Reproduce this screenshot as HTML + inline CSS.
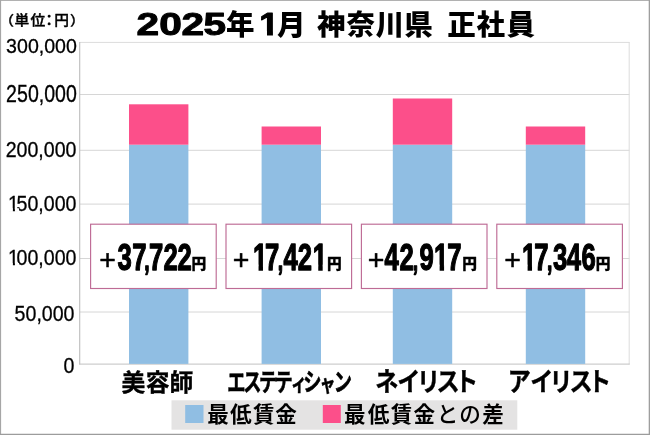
<!DOCTYPE html>
<html lang="ja">
<head>
<meta charset="utf-8">
<title>2025年1月 神奈川県 正社員</title>
<style>
html,body{margin:0;padding:0;background:#fff;}
body{width:650px;height:435px;overflow:hidden;}
svg{display:block;}
text{font-family:"Liberation Sans","Noto Sans CJK JP",sans-serif;fill:#000;}
.jp{font-family:"Noto Sans CJK JP","Liberation Sans",sans-serif;}
</style>
</head>
<body>
<svg width="650" height="435" viewBox="0 0 650 435">
<rect x="0" y="0" width="650" height="435" fill="#ffffff"/>
<g fill="none" stroke-width="1">
<line x1="80" y1="42.4" x2="629.5" y2="42.4" stroke="#dcdcdc"/>
<line x1="80" y1="94.5" x2="629.5" y2="94.5" stroke="#d6d6d6"/>
<line x1="80" y1="150.3" x2="629.5" y2="150.3" stroke="#d6d6d6"/>
<line x1="80" y1="204.1" x2="629.5" y2="204.1" stroke="#d6d6d6"/>
<line x1="80" y1="258.5" x2="629.5" y2="258.5" stroke="#d6d6d6"/>
<line x1="80" y1="312.0" x2="629.5" y2="312.0" stroke="#d6d6d6"/>
<line x1="629.2" y1="42" x2="629.2" y2="364.5" stroke="#dcdcdc"/>
</g>
<line x1="79.7" y1="42" x2="79.7" y2="364.6" stroke="#bcbcbc" stroke-width="1.1"/>
<line x1="79.2" y1="364.1" x2="629.7" y2="364.1" stroke="#c2c2c2" stroke-width="1"/>
<rect x="129" y="144.7" width="59.4" height="219.2" fill="#90bee3"/>
<rect x="129" y="104.3" width="59.4" height="40.4" fill="#fc4f8a"/>
<rect x="261.6" y="144.7" width="59.4" height="219.2" fill="#90bee3"/>
<rect x="261.6" y="126.5" width="59.4" height="18.2" fill="#fc4f8a"/>
<rect x="392.8" y="144.7" width="59.4" height="219.2" fill="#90bee3"/>
<rect x="392.8" y="98.5" width="59.4" height="46.2" fill="#fc4f8a"/>
<rect x="525.8" y="144.7" width="59.4" height="219.2" fill="#90bee3"/>
<rect x="525.8" y="126.5" width="59.4" height="18.2" fill="#fc4f8a"/>
<text transform="translate(0 35.3) scale(1.27 1.0)" x="107.49 125.50 143.00 160.27" font-size="32" font-weight="700" stroke="#000" stroke-width="1" stroke-linejoin="round">2025</text>
<text transform="translate(0 35.1)" x="225.94" font-size="28.5" font-weight="900" class="jp">年</text>
<text transform="translate(0 35.3) scale(1.1 1.0)" x="235.75" font-size="32" font-weight="700" stroke="#000" stroke-width="1" stroke-linejoin="round">1</text>
<rect x="259.69" y="30.93" width="7.30" height="5.67" fill="#ffffff"/>
<rect x="272.92" y="30.93" width="6.85" height="5.67" fill="#ffffff"/>
<text transform="translate(0 35.1)" x="277.02" font-size="28.5" font-weight="900" class="jp">月</text>
<text transform="translate(0 35.1)" x="317.08 346.60 375.51 404.18" font-size="28.5" font-weight="900" class="jp">神奈川県</text>
<text transform="translate(0 35.1)" x="447.26 476.45 506.44" font-size="28.5" font-weight="900" class="jp">正社員</text>
<text transform="translate(0 24.9) scale(1.1 1.0)" x="-0.69 13.10 27.72 37.98 49.30 63.65" font-size="13.4" font-weight="500" class="jp" stroke="#000" stroke-width="0.35" stroke-linejoin="round">（単位：円）</text>
<text transform="translate(6.12 53.2) scale(0.915 0.92)" font-size="21.4" stroke="#000" stroke-width="0.3">300,000</text>
<text transform="translate(6.12 101.5) scale(0.915 1.08)" font-size="21.4" stroke="#000" stroke-width="0.3">250,000</text>
<text transform="translate(5.72 157.4) scale(0.915 1.0)" font-size="21.4" stroke="#000" stroke-width="0.3">200,000</text>
<text transform="translate(5.72 210.7) scale(0.915 1.0)" x="2.62 11.90" font-size="21.4" stroke="#000" stroke-width="0.3">150,000</text>
<rect x="8.61" y="208.30" width="4.28" height="3.60" fill="#fff"/>
<rect x="14.92" y="208.30" width="4.13" height="3.60" fill="#fff"/>
<text transform="translate(5.72 265.4) scale(0.915 1.0)" x="2.62 11.90" font-size="21.4" stroke="#000" stroke-width="0.3">100,000</text>
<rect x="8.61" y="263.00" width="4.28" height="3.60" fill="#fff"/>
<rect x="14.92" y="263.00" width="4.13" height="3.60" fill="#fff"/>
<text transform="translate(14.61 321.1) scale(0.915 1.0)" font-size="21.4" stroke="#000" stroke-width="0.3">50,000</text>
<text transform="translate(63.61 373.4) scale(0.915 1.0)" font-size="21.4" stroke="#000" stroke-width="0.3">0</text>
<g fill="#ffffff" stroke="#be6b95" stroke-width="1.15">
<rect x="90.6" y="224.2" width="125.6" height="64.3"/>
<rect x="226" y="224.2" width="125.6" height="64.3"/>
<rect x="361.4" y="224.2" width="125.6" height="64.3"/>
<rect x="496.8" y="224.2" width="125.6" height="64.3"/>
</g>
<text transform="translate(0 269.0)" x="99.14" font-size="28.5" font-weight="400" stroke="#000" stroke-width="0.5" stroke-linejoin="round">+</text>
<text transform="translate(0 269.8) scale(0.69 1.0)" x="170.34 191.56 209.01 216.05 237.07 257.15" font-size="37.2" font-weight="700" stroke="#000" stroke-width="1.3" stroke-linejoin="round">37<tspan font-size="27.9">,</tspan>722</text>
<text transform="translate(0 269.4) scale(0.98 0.95)" x="195.34" font-size="15" font-weight="900" class="jp" stroke="#000" stroke-width="0.4" stroke-linejoin="round">円</text>
<text transform="translate(0 269.0)" x="232.69" font-size="28.5" font-weight="400" stroke="#000" stroke-width="0.5" stroke-linejoin="round">+</text>
<text transform="translate(0 269.8) scale(0.69 1.0)" x="366.69 384.17 402.63 410.85 431.71 453.21" font-size="37.2" font-weight="700" stroke="#000" stroke-width="1.3" stroke-linejoin="round">17<tspan font-size="27.9">,</tspan>421</text>
<rect x="252.88" y="264.75" width="5.67" height="6.50" fill="#ffffff"/>
<rect x="262.98" y="264.75" width="5.35" height="6.50" fill="#ffffff"/>
<rect x="312.58" y="264.75" width="5.67" height="6.50" fill="#ffffff"/>
<rect x="322.68" y="264.75" width="5.35" height="6.50" fill="#ffffff"/>
<text transform="translate(0 269.4) scale(0.98 0.95)" x="333.81" font-size="15" font-weight="900" class="jp" stroke="#000" stroke-width="0.4" stroke-linejoin="round">円</text>
<text transform="translate(0 269.0)" x="367.69" font-size="28.5" font-weight="400" stroke="#000" stroke-width="0.5" stroke-linejoin="round">+</text>
<text transform="translate(0 269.8) scale(0.69 1.0)" x="557.30 578.89 598.28 607.82 629.15 648.15" font-size="37.2" font-weight="700" stroke="#000" stroke-width="1.3" stroke-linejoin="round">42<tspan font-size="27.9">,</tspan>917</text>
<rect x="433.98" y="264.75" width="5.67" height="6.50" fill="#ffffff"/>
<rect x="444.08" y="264.75" width="5.35" height="6.50" fill="#ffffff"/>
<text transform="translate(0 269.4) scale(0.98 0.95)" x="471.57" font-size="15" font-weight="900" class="jp" stroke="#000" stroke-width="0.4" stroke-linejoin="round">円</text>
<text transform="translate(0 269.0)" x="504.14" font-size="28.5" font-weight="400" stroke="#000" stroke-width="0.5" stroke-linejoin="round">+</text>
<text transform="translate(0 269.8) scale(0.69 1.0)" x="756.62 774.17 792.70 801.49 821.36 842.62" font-size="37.2" font-weight="700" stroke="#000" stroke-width="1.3" stroke-linejoin="round">17<tspan font-size="27.9">,</tspan>346</text>
<rect x="521.93" y="264.75" width="5.67" height="6.50" fill="#ffffff"/>
<rect x="532.03" y="264.75" width="5.35" height="6.50" fill="#ffffff"/>
<text transform="translate(0 269.4) scale(0.98 0.95)" x="607.84" font-size="15" font-weight="900" class="jp" stroke="#000" stroke-width="0.4" stroke-linejoin="round">円</text>
<text transform="translate(0 390.6)" x="121.50 145.66 169.55" font-size="23.8" font-weight="700" class="jp" stroke="#000" stroke-width="0.35" stroke-linejoin="round">美容師</text>
<text transform="translate(0 390.6) scale(0.73 1.0)" x="311.27 333.15 354.88 375.98 398.47 415.57 437.96 457.06" font-size="25" font-weight="700" class="jp" stroke="#000" stroke-width="0.6" stroke-linejoin="round">エステテ<tspan font-size="21.5">ィ</tspan>シ<tspan font-size="21.5">ャ</tspan>ン</text>
<text transform="translate(0 391) scale(0.89 1.0)" x="421.76 446.46 468.56 490.41 511.27" font-size="26" font-weight="700" class="jp" stroke="#000" stroke-width="0.4" stroke-linejoin="round">ネイリスト</text>
<text transform="translate(0 391) scale(0.89 1.0)" x="570.55 595.67 617.49 639.85 660.54" font-size="26" font-weight="700" class="jp" stroke="#000" stroke-width="0.4" stroke-linejoin="round">アイリスト</text>
<rect x="171.5" y="400.3" width="345.8" height="29.4" fill="#e4e3e3"/>
<rect x="185.2" y="405" width="18.3" height="18" fill="#90bee3"/>
<rect x="322.8" y="405" width="18" height="18" fill="#fc4f8a"/>
<text transform="translate(0 421.9)" x="207.13 230.11 253.01 275.16" font-size="21.6" font-weight="700" class="jp">最低賃金</text>
<text class="jp" x="343.93 367.86 390.81 413.51 436.76 459.33 482.20" y="421.9" font-size="21.6" font-weight="700">最低賃金<tspan font-weight="500">との</tspan>差</text>
<rect x="0" y="0" width="650" height="0.9" fill="#a9a9a9"/>
<rect x="0" y="0" width="1.1" height="435" fill="#a6a6a6"/>
<rect x="648.7" y="0" width="1.3" height="435" fill="#9e9e9e"/>
<rect x="0" y="433.75" width="650" height="1.25" fill="#9c9c9c"/>
</svg>
</body>
</html>
